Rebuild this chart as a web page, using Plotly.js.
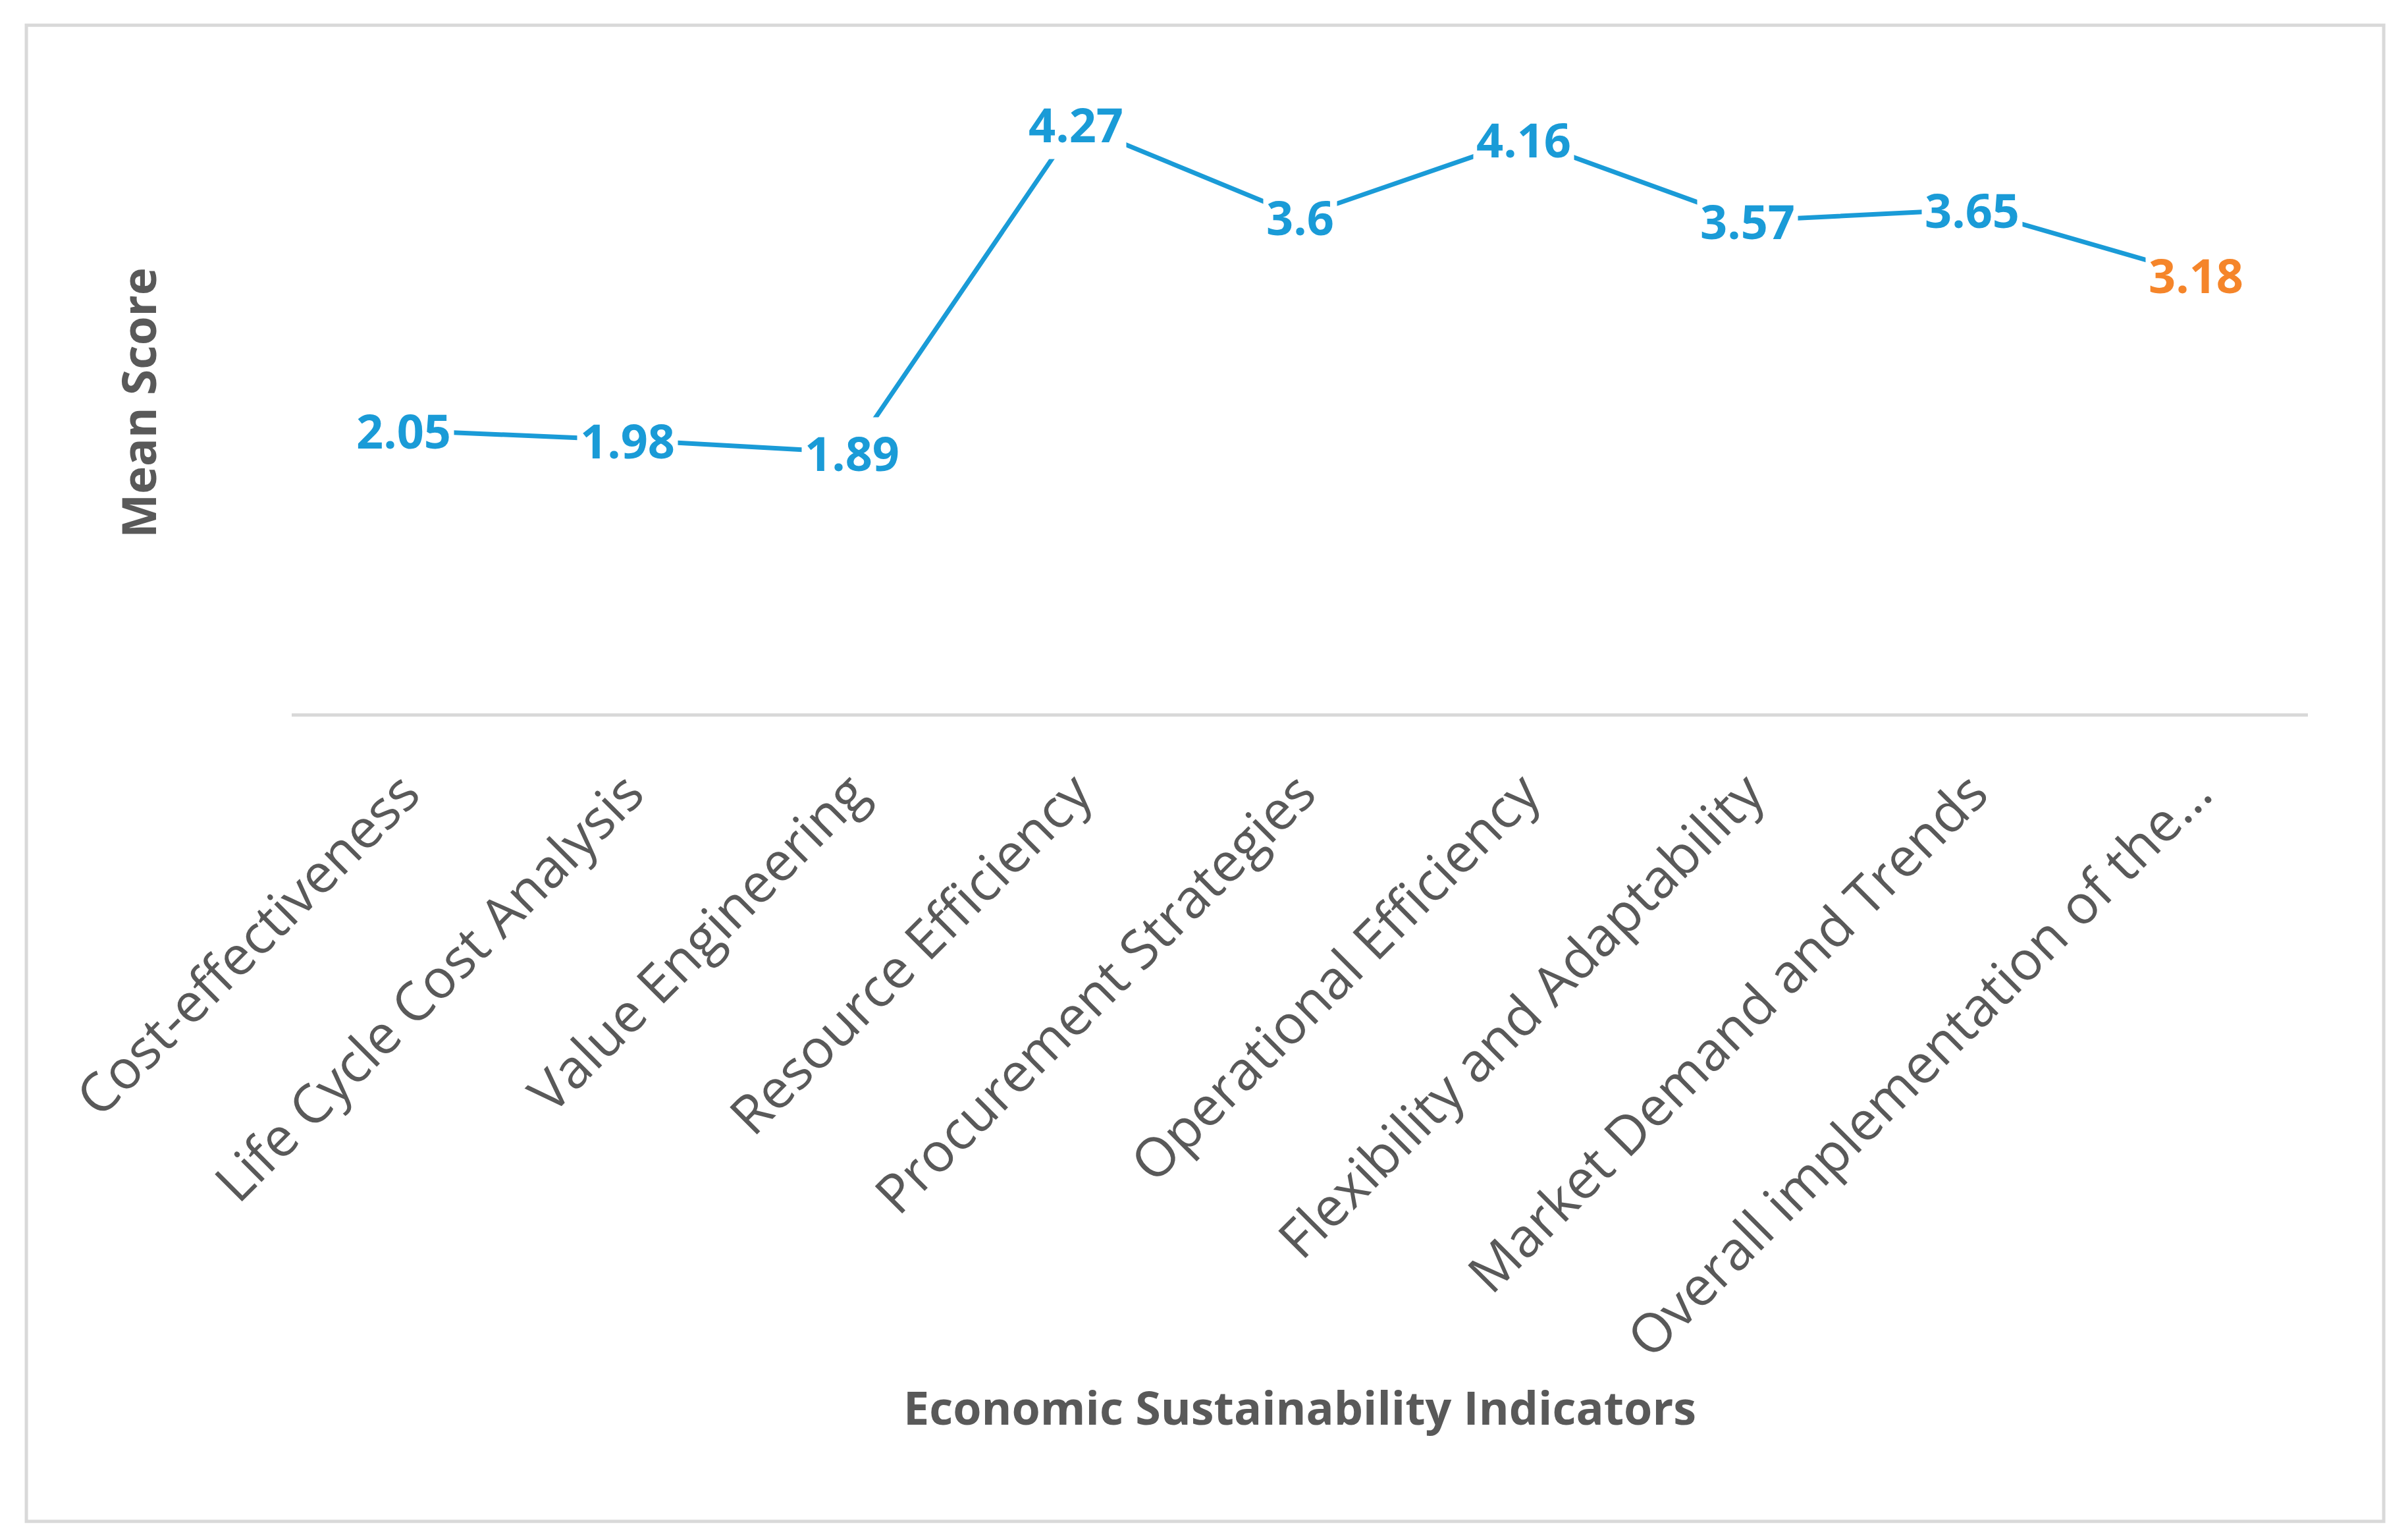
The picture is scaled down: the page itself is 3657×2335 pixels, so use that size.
<!DOCTYPE html>
<html>
<head>
<meta charset="utf-8">
<script src="https://cdn.plot.ly/plotly-3.0.1.min.js"></script>
<style>
  html, body { margin: 0; padding: 0; background: #ffffff; }
  #chart { width: 3657px; height: 2335px; }
</style>
</head>
<body>
<div id="chart"></div>
<script>
// ---- data ----
const categories = [
  "Cost-effectiveness",
  "Life Cycle Cost Analysis",
  "Value Engineering",
  "Resource Efficiency",
  "Procurement Strategies",
  "Operational Efficiency",
  "Flexibility and Adaptability",
  "Market Demand and Trends",
  "Overall implementation of the\u2026"
];
const meanScores = [2.05, 1.98, 1.89, 4.27, 3.6, 4.16, 3.57, 3.65, 3.18];
const scoreLabels = ["2.05", "1.98", "1.89", "4.27", "3.6", "4.16", "3.57", "3.65", "3.18"];
const xTitle = "Economic Sustainability Indicators";
const yTitle = "Mean Score";

// ---- styling ----
const blue = "#1a9bd7";
const orange = "#f5852a";
const grey = "#595959";
const highlightIndex = categories.length - 1;

const trace = {
  type: "scatter",
  mode: "lines",
  x: categories,
  y: meanScores,
  line: { color: blue, width: 7 },
  hoverinfo: "x+y",
  showlegend: false
};

const annotations = categories.map((c, i) => ({
  x: c,
  y: meanScores[i],
  xref: "x",
  yref: "y",
  text: scoreLabels[i],
  showarrow: false,
  xanchor: "center",
  yanchor: "middle",
  bgcolor: "#ffffff",
  borderpad: 4,
  font: {
    family: "Open Sans, Noto Sans, sans-serif",
    size: 72,
    weight: 700,
    color: i === highlightIndex ? orange : blue
  }
}));

const layout = {
  width: 3657,
  height: 2335,
  paper_bgcolor: "#ffffff",
  plot_bgcolor: "#ffffff",
  margin: { l: 443, r: 152, t: 140, b: 1252, autoexpand: false },
  showlegend: false,
  xaxis: {
    type: "category",
    range: [-0.5, categories.length - 0.5],
    showgrid: false,
    zeroline: false,
    showline: true,
    linecolor: "#d9d9d9",
    linewidth: 5,
    ticks: "",
    tickangle: -45,
    ticklabelstandoff: 35,
    tickfont: { family: "Open Sans, Noto Sans, sans-serif", size: 82, color: grey },
    automargin: false,
    title: {
      text: xTitle,
      standoff: 33,
      font: { family: "Open Sans, Noto Sans, sans-serif", size: 70, weight: 700, color: grey }
    }
  },
  yaxis: {
    range: [0, 4.5],
    showgrid: false,
    zeroline: false,
    showline: false,
    showticklabels: false,
    ticks: "",
    automargin: false,
    title: {
      text: yTitle,
      standoff: 181,
      font: { family: "Open Sans, Noto Sans, sans-serif", size: 71, weight: 700, color: grey }
    }
  },
  annotations: annotations,
  shapes: [{
    type: "rect",
    xref: "paper", yref: "paper",
    x0: -0.1316, x1: 1.0376,
    y0: -1.301, y1: 1.108,
    line: { color: "#d9d9d9", width: 5 },
    fillcolor: "rgba(0,0,0,0)",
    layer: "below"
  }]
};

Plotly.newPlot("chart", [trace], layout, { displayModeBar: false, staticPlot: true });
</script>
</body>
</html>
